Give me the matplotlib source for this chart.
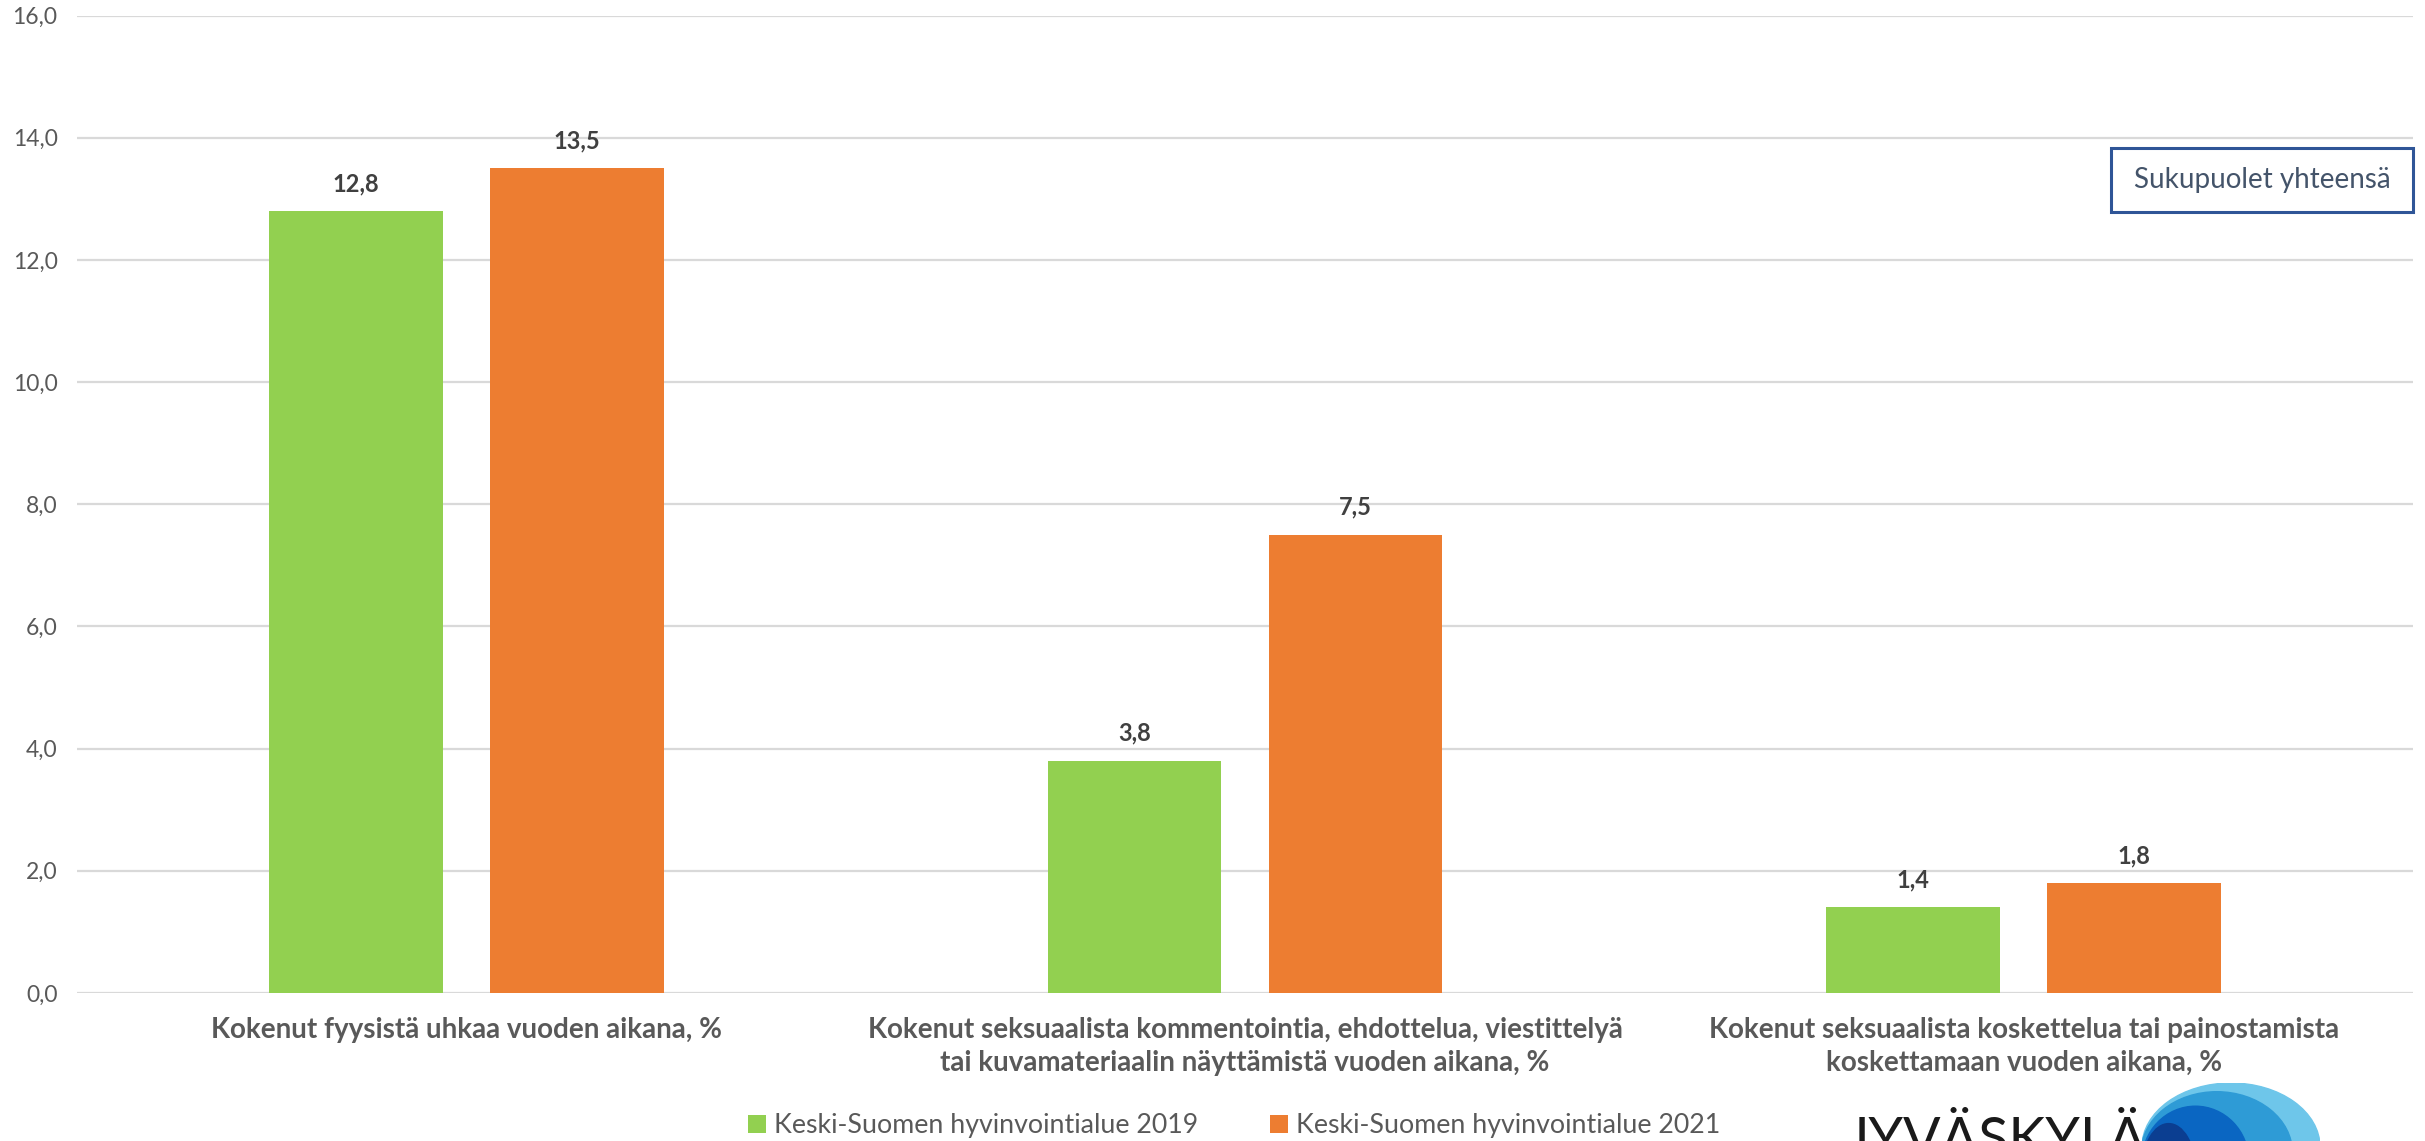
import matplotlib
matplotlib.use("Agg")
import matplotlib.pyplot as plt
from matplotlib.patches import Ellipse, Rectangle
import numpy as np

categories = [
    "Kokenut fyysistä uhkaa vuoden aikana, %",
    "Kokenut seksuaalista kommentointia, ehdottelua, viestittelyä\ntai kuvamateriaalin näyttämistä vuoden aikana, %",
    "Kokenut seksuaalista koskettelua tai painostamista\nkoskettamaan vuoden aikana, %",
]
series_names = ["Keski-Suomen hyvinvointialue 2019", "Keski-Suomen hyvinvointialue 2021"]
values_2019 = [12.8, 3.8, 1.4]
values_2021 = [13.5, 7.5, 1.8]
yticks = [0, 2, 4, 6, 8, 10, 12, 14, 16]
box_text = "Sukupuolet yhteensä"

FONT = ["Lato", "DejaVu Sans"]
plt.rcParams["font.family"] = FONT

W, H = 2425, 1141
fig = plt.figure(figsize=(W / 100, H / 100), dpi=100)
ax = fig.add_axes([77 / W, 1 - 993 / H, (2413 - 77) / W, (993 - 15.5) / H])

green = "#92D050"
orange = "#ED7D31"
x = np.arange(len(categories))
bw = 0.223
off = 0.142
b1 = ax.bar(x - off, values_2019, bw, color=green, label=series_names[0], zorder=3)
b2 = ax.bar(x + off, values_2021, bw, color=orange, label=series_names[1], zorder=3)

for bars, vals in ((b1, values_2019), (b2, values_2021)):
    for r, v in zip(bars, vals):
        ax.annotate(f"{v:.1f}".replace(".", ","), (r.get_x() + r.get_width() / 2, v),
                    xytext=(0, 16), textcoords="offset pixels", ha="center", va="bottom",
                    fontsize=17, fontweight="bold", color="#404040")

ax.set_xlim(-0.5, 2.5)
ax.set_ylim(0, 16)
ax.set_yticks(yticks)
ax.set_yticklabels([f"{t:.1f}".replace(".", ",") for t in yticks], fontsize=16.5, color="#595959")
ax.set_xticks(x)
ax.set_xticklabels(categories, fontsize=20, fontweight="bold", color="#595959", linespacing=1.36)
ax.tick_params(axis="both", length=0)
ax.tick_params(axis="y", pad=14)
ax.tick_params(axis="x", pad=17)
ax.grid(axis="y", color="#D9D9D9", linewidth=1.6, zorder=0)
for s in ax.spines.values():
    s.set_visible(False)

# Legend
leg = fig.legend(handles=[b1, b2], labels=series_names, loc="center", bbox_to_anchor=(1234 / W, 1 - 1126 / H),
                 ncol=2, frameon=False, fontsize=19.3, handlelength=0.65, handleheight=0.65,
                 handletextpad=0.3, columnspacing=2.7, labelcolor="#595959")

# Box text
fig.patches.append(Rectangle((2111 / W, 1 - 212 / H), (2413 - 2111) / W, (212 - 148) / H,
                             transform=fig.transFigure, fill=False, edgecolor="#2F5597", linewidth=2.2))
fig.text((2111 + 2413) / 2 / W, 1 - 180 / H, box_text, ha="center", va="center", fontsize=20, color="#44546A")

# Logo (partially visible at bottom edge, as in the reference)
fig.text(1845 / W, 1 - 1116 / H, "JYVÄSKYLÄ", ha="left", va="top", fontsize=40, color="#1a1a1a",
         family=["Lato", "DejaVu Sans"])
lax = fig.add_axes([2142 / W, 0, (2320 - 2142) / W, (1141 - 1083) / H])
lax.set_xlim(0, 1)
lax.set_ylim(0, 1)
lax.axis("off")
lax.add_patch(Ellipse((0.5, -0.1), 1.0, 2.2, color="#6EC6EA"))
lax.add_patch(Ellipse((0.42, -0.2), 0.85, 2.1, color="#2E9BD6"))
lax.add_patch(Ellipse((0.3, -0.35), 0.6, 1.9, color="#0A66C2"))
lax.add_patch(Ellipse((0.15, -0.5), 0.3, 1.6, color="#0B3E91"))

fig.savefig("out.png", dpi=100)
